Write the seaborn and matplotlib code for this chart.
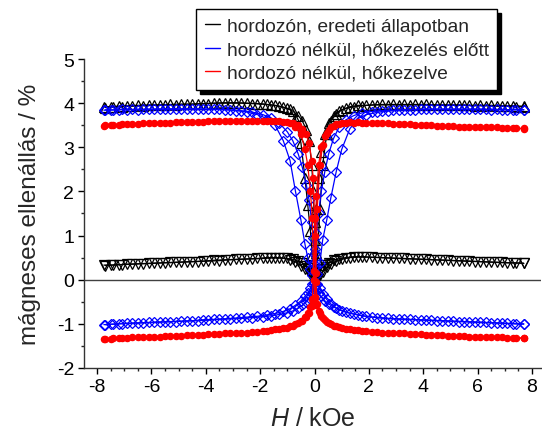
import matplotlib
matplotlib.use('Agg')
import pandas as pd
import matplotlib.pyplot as plt
from matplotlib.lines import Line2D
from matplotlib.ticker import MultipleLocator
import seaborn as sns

# --- Data ---

# field values of the two sweeps (kOe)
H_UP = [-7.7, -7.4, -7.1, -6.7, -6.3, -5.9, -5.5, -5.1, -4.7, -4.3,
        -3.9, -3.5, -3.1, -2.7, -2.3, -1.9, -1.6, -1.3, -1.0, -0.8,
        -0.6, -0.45, -0.3, -0.2, -0.1, -0.05, 0.0, 0.05, 0.1, 0.2,
        0.3, 0.45, 0.6, 0.8, 1.0, 1.3, 1.6, 1.9, 2.3, 2.7,
        3.1, 3.5, 3.9, 4.3, 4.7, 5.1, 5.5, 5.9, 6.3, 6.7,
        7.1, 7.4, 7.7]
H_DOWN = [-7.75, -7.5, -7.2, -6.9, -6.5, -6.1, -5.7, -5.3, -4.9, -4.5,
          -4.1, -3.7, -3.3, -2.9, -2.5, -2.1, -1.75, -1.45, -1.15, -0.9,
          -0.7, -0.5, -0.35, -0.25, -0.15, -0.08, -0.03, 0.02, 0.07, 0.15,
          0.25, 0.38, 0.52, 0.7, 0.9, 1.15, 1.45, 1.75, 2.1, 2.5,
          2.9, 3.3, 3.7, 4.1, 4.5, 4.9, 5.3, 5.7, 6.1, 6.5,
          6.9, 7.3, 7.7]

# hordozón, eredeti állapotban (black)
BLACK_HIGH_UP = [3.90, 3.91, 3.92, 3.93, 3.94, 3.95, 3.96, 3.96, 3.97, 3.98,
                 3.99, 4.00, 4.00, 4.00, 3.99, 3.98, 3.96, 3.93, 3.88, 3.82,
                 3.72, 3.60, 3.40, 3.15, 2.60, 2.00, 1.30, 0.60, 0.45, 1.60,
                 2.60, 3.30, 3.60, 3.75, 3.85, 3.92, 3.95, 3.95, 3.96, 3.96,
                 3.96, 3.96, 3.96, 3.96, 3.95, 3.95, 3.95, 3.94, 3.94, 3.93,
                 3.93, 3.92, 3.92]
BLACK_HIGH_DOWN = [3.92, 3.92, 3.93, 3.94, 3.95, 3.96, 3.96, 3.97, 3.98, 3.98,
                   3.99, 4.00, 4.01, 4.01, 4.00, 3.99, 3.97, 3.95, 3.91, 3.86,
                   3.65, 3.10, 2.30, 1.70, 1.10, 0.55, 0.30, 0.90, 1.60, 2.30,
                   2.90, 3.30, 3.55, 3.72, 3.82, 3.88, 3.92, 3.94, 3.96, 3.97,
                   3.97, 3.97, 3.97, 3.97, 3.96, 3.96, 3.96, 3.95, 3.95, 3.95,
                   3.94, 3.94, 3.93]
BLACK_LOW_UP = [0.32, 0.33, 0.34, 0.35, 0.36, 0.37, 0.38, 0.39, 0.40, 0.41,
                0.42, 0.43, 0.45, 0.46, 0.47, 0.48, 0.49, 0.49, 0.48, 0.46,
                0.42, 0.38, 0.32, 0.27, 0.20, 0.15, 0.10, 0.04, 0.02, 0.10,
                0.18, 0.28, 0.35, 0.42, 0.46, 0.50, 0.51, 0.51, 0.50, 0.49,
                0.48, 0.47, 0.46, 0.45, 0.44, 0.43, 0.42, 0.41, 0.40, 0.39,
                0.38, 0.38, 0.37]
BLACK_LOW_DOWN = [0.33, 0.33, 0.34, 0.35, 0.36, 0.37, 0.38, 0.39, 0.40, 0.41,
                  0.42, 0.44, 0.45, 0.46, 0.47, 0.48, 0.50, 0.50, 0.49, 0.45,
                  0.40, 0.32, 0.25, 0.19, 0.12, 0.05, 0.02, 0.08, 0.12, 0.18,
                  0.25, 0.33, 0.38, 0.44, 0.47, 0.50, 0.52, 0.52, 0.51, 0.50,
                  0.49, 0.48, 0.47, 0.46, 0.45, 0.44, 0.43, 0.42, 0.41, 0.40,
                  0.39, 0.38, 0.37]

# hordozó nélkül, hőkezelés előtt (blue)
BLUE_HIGH_UP = [3.85, 3.85, 3.86, 3.86, 3.86, 3.86, 3.87, 3.87, 3.87, 3.87,
                3.86, 3.86, 3.85, 3.83, 3.80, 3.74, 3.66, 3.55, 3.35, 3.15,
                2.85, 2.55, 2.15, 1.80, 1.30, 0.95, 0.60, 0.30, 0.12, 0.38,
                0.90, 1.35, 1.85, 2.45, 2.95, 3.42, 3.65, 3.74, 3.79, 3.82,
                3.84, 3.85, 3.86, 3.86, 3.86, 3.86, 3.86, 3.86, 3.86, 3.86,
                3.85, 3.85, 3.85]
BLUE_HIGH_DOWN = [3.84, 3.84, 3.85, 3.85, 3.85, 3.86, 3.86, 3.86, 3.86, 3.86,
                  3.86, 3.86, 3.85, 3.83, 3.80, 3.74, 3.65, 3.50, 3.15, 2.70,
                  2.00, 1.35, 0.80, 0.50, 0.25, 0.10, 0.35, 0.70, 1.05, 1.50,
                  2.00, 2.45, 2.85, 3.20, 3.45, 3.62, 3.72, 3.78, 3.81, 3.83,
                  3.84, 3.85, 3.85, 3.86, 3.86, 3.86, 3.86, 3.86, 3.86, 3.85,
                  3.85, 3.85, 3.85]
BLUE_LOW_UP = [-1.02, -1.01, -1.00, -0.99, -0.98, -0.97, -0.96, -0.95, -0.94, -0.93,
               -0.92, -0.90, -0.89, -0.88, -0.86, -0.84, -0.82, -0.79, -0.75, -0.71,
               -0.65, -0.58, -0.50, -0.42, -0.33, -0.27, -0.20, -0.12, -0.10, -0.20,
               -0.32, -0.45, -0.55, -0.64, -0.70, -0.76, -0.80, -0.83, -0.86, -0.88,
               -0.89, -0.90, -0.91, -0.92, -0.93, -0.94, -0.95, -0.96, -0.97, -0.98,
               -0.99, -1.00, -1.00]
BLUE_LOW_DOWN = [-1.02, -1.01, -1.00, -0.99, -0.98, -0.97, -0.96, -0.95, -0.94, -0.93,
                 -0.91, -0.90, -0.89, -0.87, -0.85, -0.83, -0.80, -0.77, -0.72, -0.66,
                 -0.58, -0.48, -0.38, -0.30, -0.20, -0.10, -0.08, -0.15, -0.22, -0.30,
                 -0.38, -0.48, -0.55, -0.62, -0.68, -0.74, -0.78, -0.82, -0.85, -0.87,
                 -0.89, -0.90, -0.91, -0.92, -0.93, -0.94, -0.95, -0.96, -0.97, -0.98,
                 -0.99, -1.00, -1.01]

# hordozó nélkül, hőkezelve (red)
RED_HIGH_UP = [3.50, 3.51, 3.52, 3.53, 3.54, 3.55, 3.56, 3.57, 3.58, 3.58,
               3.59, 3.59, 3.60, 3.60, 3.60, 3.60, 3.60, 3.59, 3.58, 3.55,
               3.50, 3.42, 3.30, 3.10, 2.70, 2.30, 1.40, 0.15, 1.60, 2.60,
               3.05, 3.32, 3.45, 3.52, 3.56, 3.57, 3.57, 3.56, 3.55, 3.54,
               3.53, 3.52, 3.51, 3.50, 3.49, 3.48, 3.47, 3.46, 3.46, 3.45,
               3.44, 3.43, 3.43]
RED_HIGH_DOWN = [3.49, 3.50, 3.51, 3.52, 3.53, 3.54, 3.55, 3.56, 3.57, 3.58,
                 3.58, 3.59, 3.59, 3.60, 3.60, 3.60, 3.60, 3.59, 3.57, 3.54,
                 3.45, 3.30, 2.95, 2.60, 2.00, 1.40, 0.00, 1.00, 1.90, 2.60,
                 3.00, 3.25, 3.40, 3.48, 3.53, 3.55, 3.56, 3.56, 3.55, 3.54,
                 3.53, 3.52, 3.51, 3.50, 3.49, 3.48, 3.47, 3.46, 3.45, 3.45,
                 3.44, 3.43, 3.42]
RED_LOW_UP = [-1.34, -1.33, -1.32, -1.31, -1.30, -1.29, -1.28, -1.27, -1.26, -1.25,
              -1.24, -1.23, -1.22, -1.20, -1.19, -1.17, -1.15, -1.13, -1.09, -1.05,
              -0.99, -0.93, -0.84, -0.75, -0.60, -0.50, -0.40, -0.05, -0.55, -0.75,
              -0.86, -0.95, -1.01, -1.06, -1.09, -1.12, -1.15, -1.17, -1.19, -1.20,
              -1.22, -1.23, -1.24, -1.25, -1.26, -1.27, -1.28, -1.29, -1.30, -1.31,
              -1.32, -1.32, -1.33]
RED_LOW_DOWN = [-1.35, -1.34, -1.33, -1.32, -1.31, -1.30, -1.29, -1.28, -1.27, -1.26,
                -1.25, -1.24, -1.22, -1.21, -1.20, -1.18, -1.16, -1.13, -1.10, -1.06,
                -1.01, -0.93, -0.85, -0.76, -0.62, -0.45, 0.20, -0.42, -0.58, -0.72,
                -0.83, -0.92, -0.99, -1.04, -1.08, -1.11, -1.14, -1.16, -1.18, -1.20,
                -1.21, -1.22, -1.24, -1.25, -1.26, -1.27, -1.28, -1.29, -1.30, -1.31,
                -1.31, -1.32, -1.32]

LABELS = ['hordozón, eredeti állapotban',
          'hordozó nélkül, hőkezelés előtt',
          'hordozó nélkül, hőkezelve']
COLORS = ['black', '#0000ff', '#ff0000']

# --- Style ---
sns.set_style('ticks')
plt.rcParams['font.family'] = ['Liberation Sans', 'DejaVu Sans']
plt.rcParams['mathtext.fontset'] = 'custom'
plt.rcParams['mathtext.it'] = 'Liberation Sans:italic'
plt.rcParams['mathtext.rm'] = 'Liberation Sans'
plt.rcParams['axes.unicode_minus'] = False

# (up sweep, down sweep, color, marker, size, filled)
curves = [
    (BLACK_HIGH_UP, BLACK_HIGH_DOWN, COLORS[0], '^', 6.5, False),
    (BLACK_LOW_UP, BLACK_LOW_DOWN, COLORS[0], 'v', 6.5, False),
    (BLUE_HIGH_UP, BLUE_HIGH_DOWN, COLORS[1], 'D', 5.0, False),
    (BLUE_LOW_UP, BLUE_LOW_DOWN, COLORS[1], 'D', 5.0, False),
    (RED_HIGH_UP, RED_HIGH_DOWN, COLORS[2], 'o', 4.5, True),
    (RED_LOW_UP, RED_LOW_DOWN, COLORS[2], 'o', 4.5, True),
]

fig = plt.figure(figsize=(5.42, 4.35), dpi=100)
ax = fig.add_axes([0.155, 0.152, 0.843, 0.71])

ax.axhline(0, color='#404040', lw=1.0, zorder=1)

for up, down, color, marker, size, filled in curves:
    df = pd.DataFrame({
        'H': H_UP + H_DOWN,
        'R': up + down,
        'sweep': ['up'] * len(H_UP) + ['down'] * len(H_DOWN),
    })
    sns.lineplot(data=df, x='H', y='R', units='sweep', estimator=None,
                 sort=False, color=color, lw=0.9, marker=marker,
                 markersize=size, markeredgecolor=color, markeredgewidth=0.9,
                 markerfacecolor=color if filled else 'none',
                 legend=False, ax=ax, zorder=2)

ax.set_xlim(-8.48, 8.33)
ax.set_ylim(-2, 5)
ax.xaxis.set_major_locator(MultipleLocator(2))
ax.xaxis.set_minor_locator(MultipleLocator(0.5))
ax.yaxis.set_major_locator(MultipleLocator(1))
ax.yaxis.set_minor_locator(MultipleLocator(0.5))
ax.tick_params(which='major', direction='out', length=4, width=1,
               labelsize=14, colors='black', pad=3)
ax.tick_params(which='minor', direction='out', length=2.5, width=1)

sns.despine(ax=ax)
for side in ['left', 'bottom']:
    ax.spines[side].set_linewidth(1.0)
    ax.spines[side].set_color('#333333')

ax.set_xlabel('$H$ / kOe', fontsize=18)
ax.set_ylabel('mágneses ellenállás / %', fontsize=17.5)
ax.xaxis.set_label_coords(0.5, -0.125)
ax.yaxis.set_label_coords(-0.095, 0.5)

handles = [Line2D([], [], color=c, lw=1) for c in COLORS]
leg = ax.legend(handles, LABELS, loc='upper left',
                bbox_to_anchor=(196 / 542, 1 - 10 / 435),
                bbox_transform=fig.transFigure, borderaxespad=0,
                fontsize=13.8, handlelength=0.8, handletextpad=0.35,
                borderpad=0.45, labelspacing=0.3, fancybox=False,
                frameon=True, edgecolor='black',
                shadow={'ox': 3, 'oy': -3, 'color': 'black', 'alpha': 1})
leg.get_frame().set_linewidth(1.0)

fig.savefig('out.png', dpi=100)
